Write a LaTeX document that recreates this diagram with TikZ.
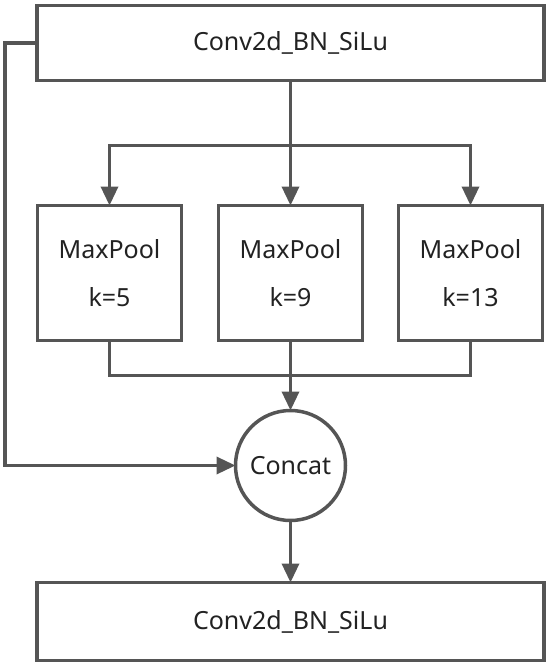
\documentclass[tikz,border=0pt]{standalone}
\usepackage{xcolor}
\usepackage{fontspec}
\setmainfont{Noto Sans}
\usepackage{tikz}
\usetikzlibrary{arrows.meta, positioning}

\definecolor{linegray}{HTML}{555555}
\definecolor{textgray}{HTML}{222222}

\begin{document}
\begin{tikzpicture}[
  x=1pt, y=-1pt,
  block/.style={rectangle, draw=linegray, line width=3.5pt, outer sep=0pt, minimum width=507pt, minimum height=75pt, align=center, text=textgray, font=\fontsize{25}{30}\selectfont},
  pool/.style={rectangle, draw=linegray, line width=3.5pt, outer sep=0pt, minimum width=144pt, minimum height=135pt, align=center, text=textgray, font=\fontsize{25}{48}\selectfont},
  merge/.style={circle, draw=linegray, line width=3.5pt, outer sep=0pt, minimum size=110pt, inner sep=0pt, text=textgray, font=\fontsize{25}{30}\selectfont},
  line/.style={draw=linegray, line width=3.5pt},
  arrow/.style={line, -{Triangle[length=19pt, width=17pt]}}
]
  \useasboundingbox (0,0) rectangle (549,667);

  \node[block] (conv1) at (290.5,43) {Conv2d\_BN\_SiLu};
  \node[pool, below=125pt of conv1] (pool9) {MaxPool\\k=9};
  \node[pool, left=37pt of pool9] (pool5) {MaxPool\\k=5};
  \node[pool, right=36pt of pool9] (pool13) {MaxPool\\k=13};
  \node[merge, below=70pt of pool9] (concat) {Concat};
  \node[block, minimum height=78pt, below=62pt of concat] (conv2) {Conv2d\_BN\_SiLu};

  \path (conv1.south) ++(0,65) coordinate (split);
  \path (pool9.south) ++(0,35) coordinate (join);

  \draw[arrow] (conv1.south) -- (pool9.north);
  \draw[arrow] (split) -| (pool5.north);
  \draw[arrow] (split) -| (pool13.north);
  \draw[line] (pool5.south) |- (join) -| (pool13.south);
  \draw[arrow] (pool9.south) -- (concat.north);
  \draw[arrow] (conv1.west) -- ++(-32,0) |- (concat.west);
  \draw[arrow] (concat.south) -- (conv2.north);
\end{tikzpicture}
\end{document}
